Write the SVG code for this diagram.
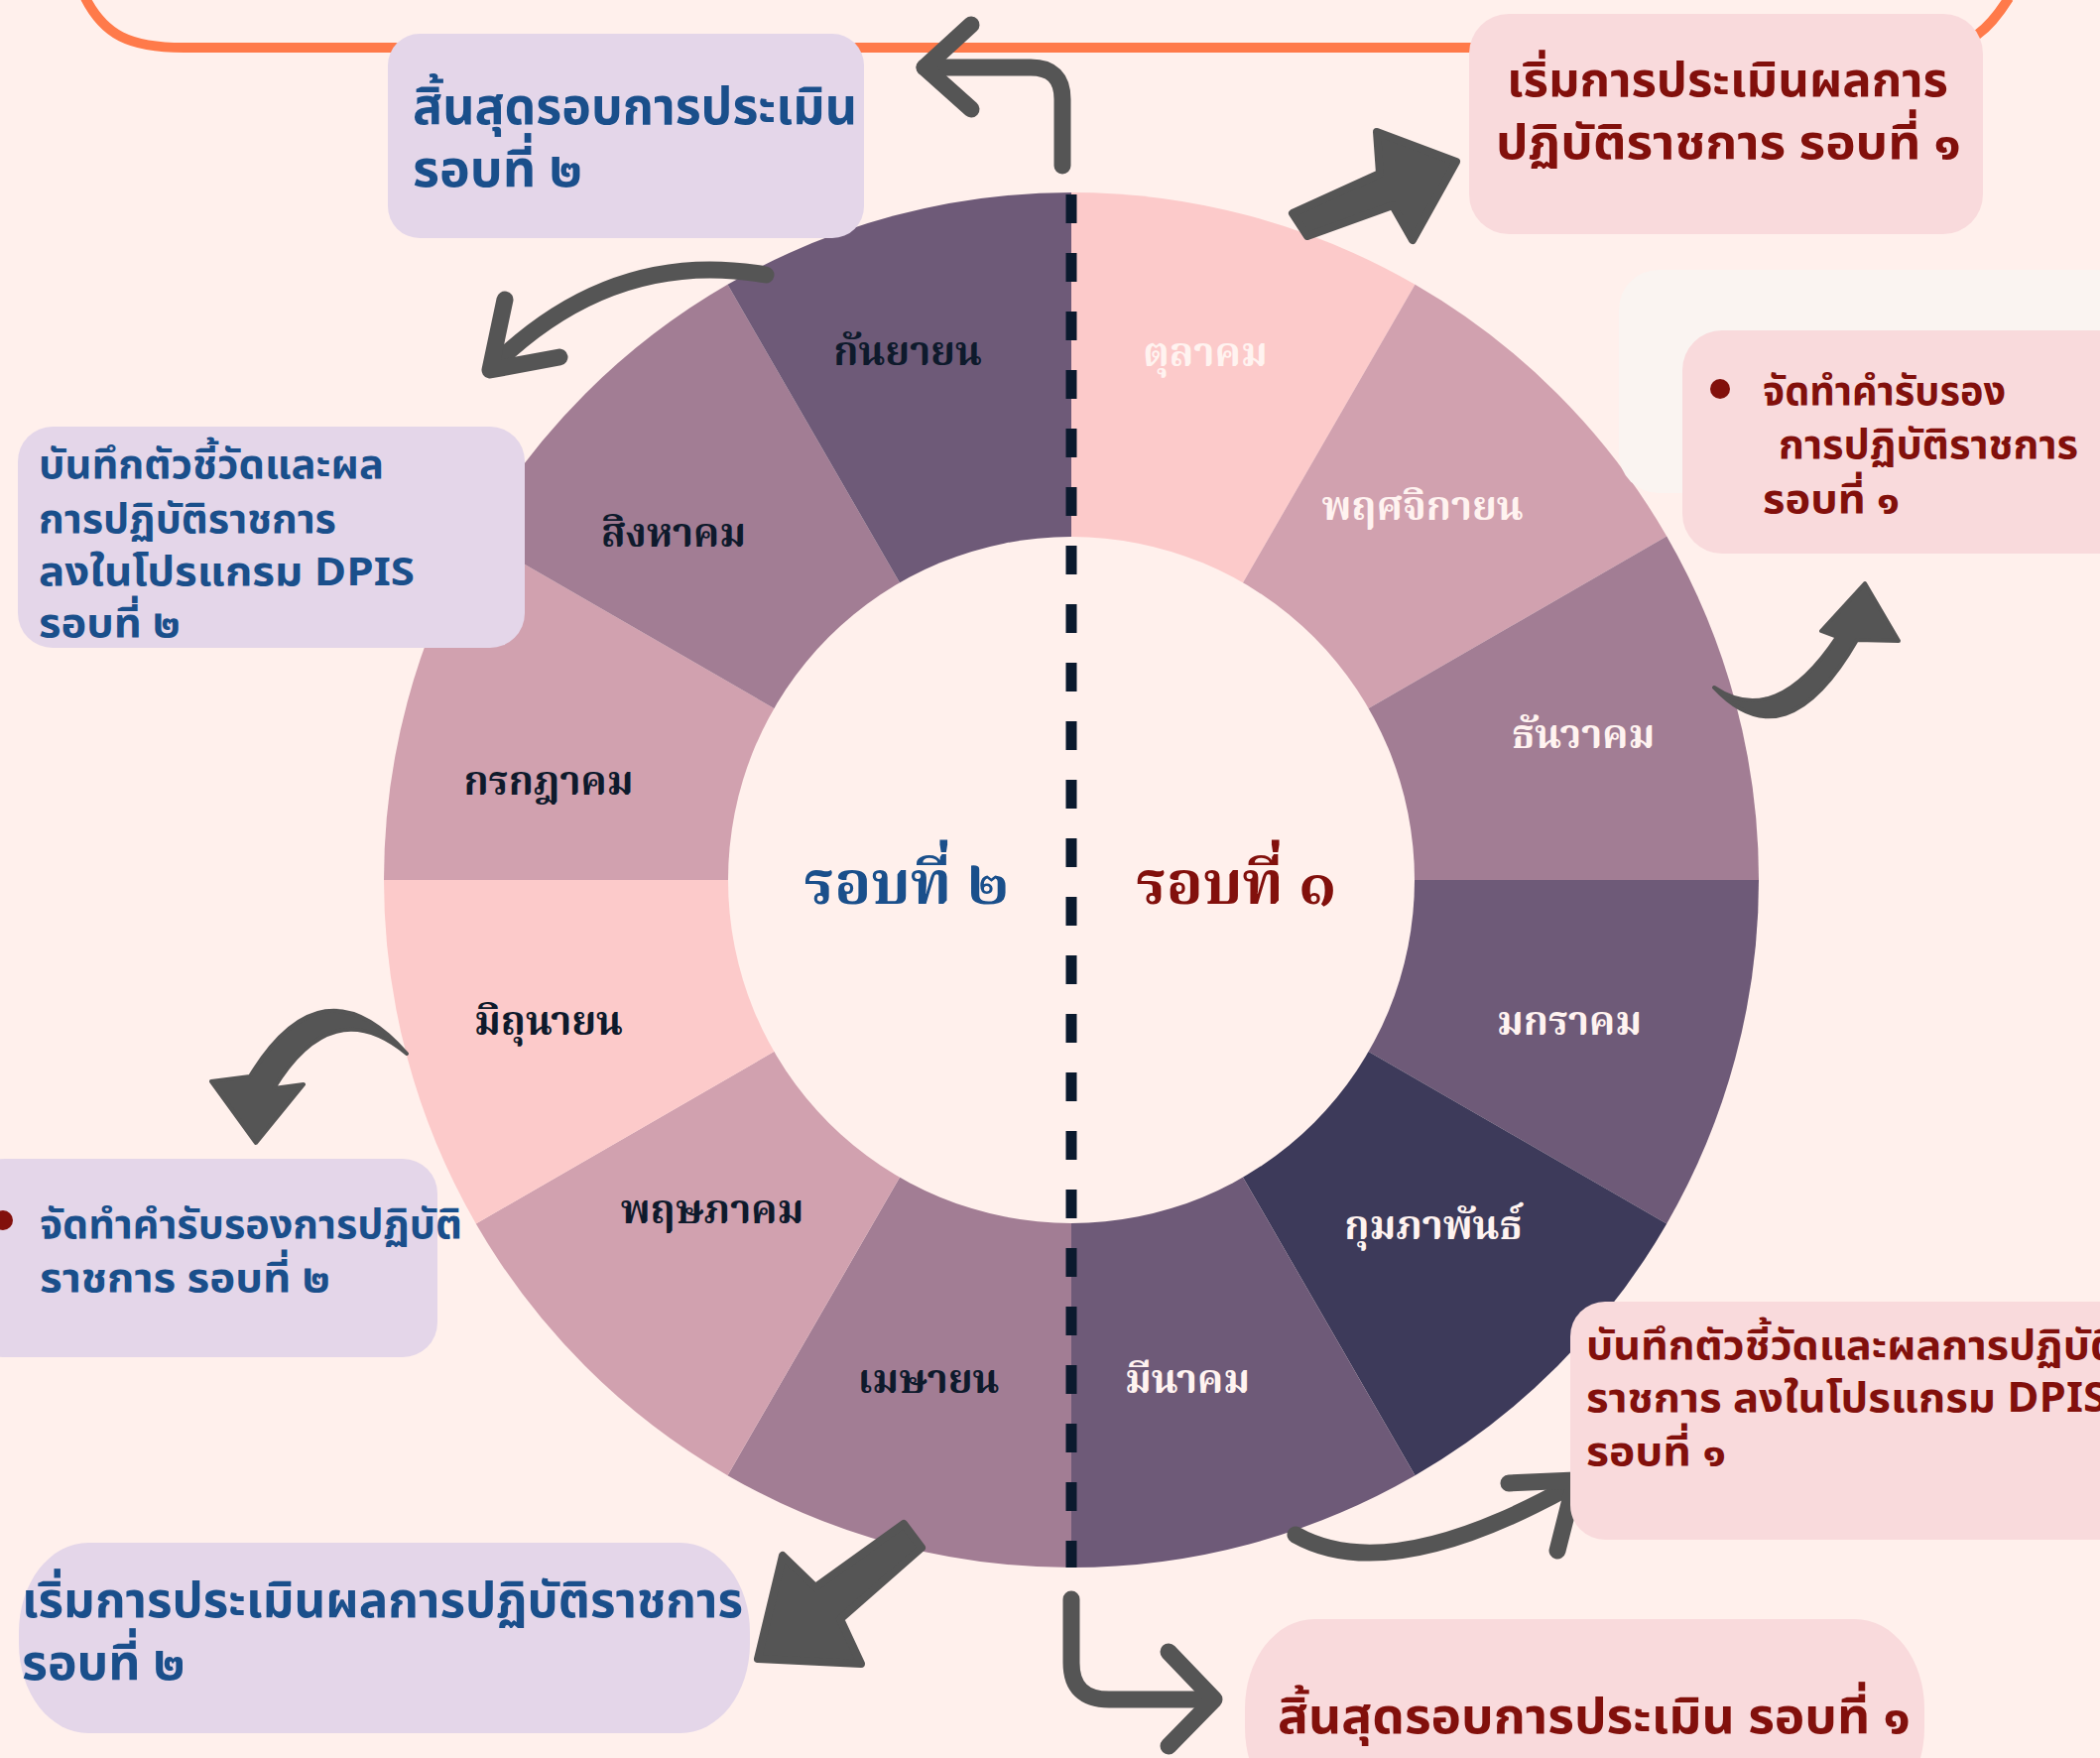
<svg xmlns="http://www.w3.org/2000/svg" width="2117" height="1772" viewBox="0 0 2117 1772">
<style>
.bx{font-family:'Noto Sans Thai','Noto Sans Thai UI','Noto Sans','DejaVu Sans',sans-serif;font-weight:bold}
.blue{fill:#1A4F8B}
.red{fill:#82100C}
.lav{fill:#E4D6E9}
.pnk{fill:#F9DADC}
.mo{font-family:'Noto Serif Thai','Noto Sans Thai','Noto Sans','DejaVu Serif',serif;font-weight:bold;font-size:40px;text-anchor:middle}
.ce{font-size:61px}
.lt{fill:#FFF3F0}
.dk{fill:#0E1A2C}
.ln{fill:none;stroke:#555555;stroke-width:17;stroke-linecap:round;stroke-linejoin:round}
.fa{fill:#555555;stroke:#555555;stroke-width:8;stroke-linejoin:round}
</style>
<rect x="0" y="0" width="2117" height="1772" fill="#FFF0EC"/>
<path d="M 86 -2 C 105 35 130 48 185 48 L 1950 48 C 1985 48 2005 30 2025 -2" fill="none" stroke="#FF7A4A" stroke-width="10"/>

<g id="wheel">
<path d="M1080 887 L1080 194 A693 693 0 0 1 1426.5 286.8 Z" fill="#FCCACA"/>
<path d="M1080 887 L1426.5 286.8 A693 693 0 0 1 1680.2 540.5 Z" fill="#D1A1AF"/>
<path d="M1080 887 L1680.2 540.5 A693 693 0 0 1 1773 887 Z" fill="#A27D94"/>
<path d="M1080 887 L1773 887 A693 693 0 0 1 1680.2 1233.5 Z" fill="#6E5A78"/>
<path d="M1080 887 L1680.2 1233.5 A693 693 0 0 1 1426.5 1487.2 Z" fill="#3D3A5A"/>
<path d="M1080 887 L1426.5 1487.2 A693 693 0 0 1 1080 1580 Z" fill="#6E5A78"/>
<path d="M1080 887 L1080 1580 A693 693 0 0 1 733.5 1487.2 Z" fill="#A27D94"/>
<path d="M1080 887 L733.5 1487.2 A693 693 0 0 1 479.8 1233.5 Z" fill="#D1A1AF"/>
<path d="M1080 887 L479.8 1233.5 A693 693 0 0 1 387 887 Z" fill="#FCCACA"/>
<path d="M1080 887 L387 887 A693 693 0 0 1 479.8 540.5 Z" fill="#D1A1AF"/>
<path d="M1080 887 L479.8 540.5 A693 693 0 0 1 733.5 286.8 Z" fill="#A27D94"/>
<path d="M1080 887 L733.5 286.8 A693 693 0 0 1 1080 194 Z" fill="#6E5A78"/>
<circle cx="1080" cy="887" r="346" fill="#FFF0EC"/>
</g>

<g id="months">
<text class="mo lt" x="1215" y="369">ตุลาคม</text>
<text class="mo lt" x="1434" y="524">พฤศจิกายน</text>
<text class="mo lt" x="1596" y="754">ธันวาคม</text>
<text class="mo lt" x="1582" y="1043">มกราคม</text>
<text class="mo lt" x="1445" y="1249">กุมภาพันธ์</text>
<text class="mo lt" x="1197" y="1404">มีนาคม</text>
<text class="mo dk" x="936" y="1404">เมษายน</text>
<text class="mo dk" x="718" y="1233">พฤษภาคม</text>
<text class="mo dk" x="553" y="1043">มิถุนายน</text>
<text class="mo dk" x="553" y="801">กรกฎาคม</text>
<text class="mo dk" x="679" y="551">สิงหาคม</text>
<text class="mo dk" x="915" y="368">กันยายน</text>
</g>

<g id="centers">
<text class="mo ce blue" x="914" y="911">รอบที่ ๒</text>
<text class="mo ce red" x="1246" y="911">รอบที่ ๑</text>
</g>

<g id="connectors">
<line x1="1080" y1="196" x2="1080" y2="1580" stroke="#0B1A2E" stroke-width="11" stroke-dasharray="29 30"/>
<path class="ln" d="M1071 167 L1071 100 Q1071 68 1039 68 L932 68"/>
<path class="ln" d="M979 25 L932 68 L979 110"/>
<path class="ln" d="M1080 1612 L1080 1676 Q1080 1713 1118 1713 L1222 1713"/>
<path class="ln" d="M1178 1665 L1224 1713 L1178 1760"/>
<polygon class="fa" points="1303,215 1391,175 1388,133 1468,163 1424,242 1404,207 1318,238"/>
<polygon class="fa" points="911,1536 822,1600 789,1568 764,1672 868,1677 847,1632 929,1560"/>
<path class="ln" d="M772 277 Q620 250 500 366"/>
<path class="ln" d="M509 302 L494 373 L564 360"/>
<path class="ln" d="M1306 1547 Q1400 1600 1583 1498"/>
<path class="ln" d="M1521 1495 L1588 1492 L1570 1563"/>
<path d="M410 1062 Q325 965 252 1085 L213 1090 L258 1152 L306 1093 L276 1097 Q335 1000 410 1062 Z" fill="#555555" stroke="#555555" stroke-width="4" stroke-linejoin="round"/>
<path d="M1728 693 Q1800 770 1872 645 L1914 646 L1880 588 L1836 636 L1852 642 Q1790 735 1728 693 Z" fill="#555555" stroke="#555555" stroke-width="4" stroke-linejoin="round"/>
</g>

<g id="box-end2">
<rect class="lav" x="391" y="34" width="480" height="206" rx="32"/>
<text class="bx blue" font-size="52" x="416" y="125" textLength="448" lengthAdjust="spacingAndGlyphs">สิ้นสุดรอบการประเมิน</text>
<text class="bx blue" font-size="52" x="416" y="188">รอบที่ ๒</text>
</g>

<g id="box-start1">
<rect class="pnk" x="1481" y="14" width="518" height="222" rx="40"/>
<text class="bx red" font-size="48" x="1519" y="97" textLength="445" lengthAdjust="spacingAndGlyphs">เริ่มการประเมินผลการ</text>
<text class="bx red" font-size="48" x="1508" y="160" textLength="469" lengthAdjust="spacingAndGlyphs">ปฏิบัติราชการ รอบที่ ๑</text>
</g>

<g id="box-cert1">
<rect x="1632" y="272" width="520" height="225" rx="40" fill="#FAF4F1"/>
<rect class="pnk" x="1696" y="333" width="460" height="225" rx="40"/>
<circle cx="1734" cy="392" r="10" fill="#82100C"/>
<text class="bx red" font-size="40" x="1777" y="408" textLength="245" lengthAdjust="spacingAndGlyphs">จัดทำคำรับรอง</text>
<text class="bx red" font-size="40" x="1793" y="462" textLength="302" lengthAdjust="spacingAndGlyphs">การปฏิบัติราชการ</text>
<text class="bx red" font-size="40" x="1777" y="517" textLength="138" lengthAdjust="spacingAndGlyphs">รอบที่ ๑</text>
</g>

<g id="box-record2">
<rect class="lav" x="18" y="430" width="511" height="223" rx="35"/>
<text class="bx blue" font-size="40" x="39" y="482" textLength="348" lengthAdjust="spacingAndGlyphs">บันทึกตัวชี้วัดและผล</text>
<text class="bx blue" font-size="40" x="39" y="537" textLength="300" lengthAdjust="spacingAndGlyphs">การปฏิบัติราชการ</text>
<text class="bx blue" font-size="40" x="39" y="590" textLength="379" lengthAdjust="spacingAndGlyphs">ลงในโปรแกรม DPIS</text>
<text class="bx blue" font-size="40" x="39" y="642" textLength="143" lengthAdjust="spacingAndGlyphs">รอบที่ ๒</text>
</g>

<g id="box-cert2">
<rect class="lav" x="-30" y="1168" width="471" height="200" rx="35"/>
<circle cx="3" cy="1230" r="10" fill="#82100C"/>
<text class="bx blue" font-size="41" x="40" y="1248" textLength="426" lengthAdjust="spacingAndGlyphs">จัดทำคำรับรองการปฏิบัติ</text>
<text class="bx blue" font-size="41" x="40" y="1302" textLength="293" lengthAdjust="spacingAndGlyphs">ราชการ รอบที่ ๒</text>
</g>

<g id="box-start2">
<rect class="lav" x="19" y="1555" width="737" height="192" rx="70" ry="90"/>
<text class="bx blue" font-size="50" x="22" y="1630" textLength="727" lengthAdjust="spacingAndGlyphs">เริ่มการประเมินผลการปฏิบัติราชการ</text>
<text class="bx blue" font-size="50" x="22" y="1693">รอบที่ ๒</text>
</g>

<g id="box-record1">
<rect class="pnk" x="1583" y="1312" width="580" height="240" rx="35"/>
<text class="bx red" font-size="41" x="1599" y="1370" textLength="536" lengthAdjust="spacingAndGlyphs">บันทึกตัวชี้วัดและผลการปฏิบัติ</text>
<text class="bx red" font-size="41" x="1599" y="1423" textLength="525" lengthAdjust="spacingAndGlyphs">ราชการ ลงในโปรแกรม DPIS</text>
<text class="bx red" font-size="41" x="1599" y="1477" textLength="141" lengthAdjust="spacingAndGlyphs">รอบที่ ๑</text>
</g>

<g id="box-end1">
<rect class="pnk" x="1255" y="1632" width="685" height="200" rx="70" ry="90"/>
<text class="bx red" font-size="50" x="1288" y="1747" textLength="638" lengthAdjust="spacingAndGlyphs">สิ้นสุดรอบการประเมิน รอบที่ ๑</text>
</g>
</svg>
